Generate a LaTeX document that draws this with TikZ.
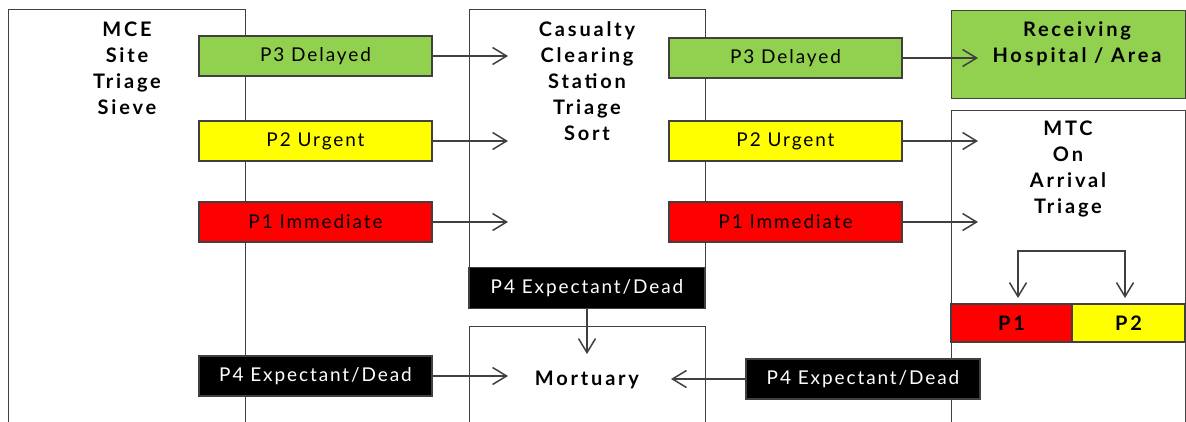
\documentclass[tikz,border=0pt]{standalone}
\usepackage{fontspec}
\setmainfont{Lato}
\newfontfamily\tagfamily[LetterSpace=10]{Lato}
\newfontfamily\headfamily[LetterSpace=14]{Lato}
\usetikzlibrary{arrows.meta}
\definecolor{edge}{HTML}{404040}
\definecolor{dgreen}{HTML}{92D050}
\definecolor{dyellow}{HTML}{FFFF00}
\definecolor{dred}{HTML}{FF0000}
\begin{document}
\begin{tikzpicture}[x=1pt,y=-1pt,
  >={Straight Barb[length=14pt,width=17pt,line width=1.5pt]},
  frame/.style={draw=edge,line width=1.4pt,fill=white,anchor=north west,inner sep=0pt},
  tag/.style={draw=edge,line width=1.3pt,minimum width=233pt,minimum height=40pt,inner sep=0pt,
    font=\tagfamily\fontsize{19}{22}\selectfont},
  gtag/.style={tag,fill=dgreen},
  ytag/.style={tag,fill=dyellow},
  rtag/.style={tag,fill=dred},
  ktag/.style={tag,fill=black,text=white},
  head/.style={align=center,font=\headfamily\bfseries\fontsize{20}{26}\selectfont},
  flow/.style={draw=edge,line width=1.5pt,->},
]
\useasboundingbox (0,0) rectangle (1186,421);
\clip (0,0) rectangle (1186,421);

% outer frames
\node[frame,minimum width=237pt,minimum height=450pt] (sieve) at (8,9) {};
\node[frame,minimum width=236pt,minimum height=259pt] (ccs) at (469,9) {};
\node[frame,minimum width=236pt,minimum height=150pt] (mort) at (469,326) {};
\node[frame,fill=dgreen,minimum width=234pt,minimum height=88pt] (recv) at (951,10) {};
\node[frame,minimum width=234pt,minimum height=400pt] (mtc) at (951,110) {};

% frame titles
\node[head] (sieveT) at (127,68.5) {MCE\\Site\\Triage\\Sieve};
\node[head] (ccsT) at (587,81.5) {Casualty\\Clearing\\Station\\Triage\\Sort};
\node[head] (recvT) at (1077,43.5) {Receiving\\Hospital / Area};
\node[head] (mtcT) at (1068,169) {MTC\\On\\Arrival\\Triage};
\node[head] (mortT) at (587,380) {Mortuary};

% sieve categories
\node[gtag] (s3) at (315.5,56) {P3 Delayed};
\node[ytag] (s2) at (315.5,141) {P2 Urgent};
\node[rtag] (s1) at (315.5,222) {P1 Immediate};
\node[ktag] (s4) at (315.5,376) {P4 Expectant/Dead};

% sort categories
\node[gtag] (c3) at (785.5,58) {P3 Delayed};
\node[ytag] (c2) at (785.5,141) {P2 Urgent};
\node[rtag] (c1) at (785.5,222) {P1 Immediate};
\node[ktag,minimum width=236pt,minimum height=41pt] (c4) at (587,288) {P4 Expectant/Dead};
\node[ktag,minimum width=234pt] (m4) at (863,379) {P4 Expectant/Dead};

% on-arrival split
\node[rtag,minimum width=121pt,minimum height=38pt,font=\headfamily\bfseries\fontsize{20}{22}\selectfont] (a1) at (1011.5,323) {P1};
\node[ytag,minimum width=113pt,minimum height=38pt,font=\headfamily\bfseries\fontsize{20}{22}\selectfont] (a2) at (1128.5,323) {P2};

% arrow ends
\coordinate (ccs3) at (508,56);
\coordinate (ccs2) at (508,141);
\coordinate (ccs1) at (508,222);
\coordinate (mortL) at (508,376);
\coordinate (mortT) at (587,354);
\coordinate (mortR) at (671,379);
\coordinate (recv3) at (978,58);
\coordinate (mtc2) at (978,141);
\coordinate (mtc1) at (978,222);
\coordinate (splitL) at (1018,298);
\coordinate (splitR) at (1125,298);

% connectors
\draw[flow] (s3.east) -- (ccs3);
\draw[flow] (s2.east) -- (ccs2);
\draw[flow] (s1.east) -- (ccs1);
\draw[flow] (s4.east) -- (mortL);
\draw[flow] (c4.south) -- (mortT);
\draw[flow] (m4.west) -- (mortR);
\draw[flow] (c3.east) -- (recv3);
\draw[flow] (c2.east) -- (mtc2);
\draw[flow] (c1.east) -- (mtc1);
\draw[flow,<->] (splitL) -- ++(0,-47) -| (splitR);
\end{tikzpicture}
\end{document}
